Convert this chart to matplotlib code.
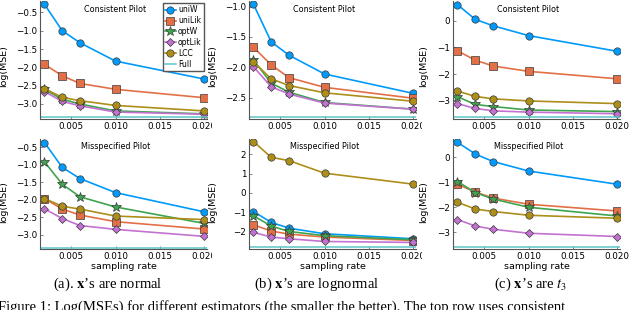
import matplotlib
matplotlib.use("Agg")
import matplotlib.pyplot as plt
from matplotlib.transforms import Bbox, TransformedBbox

# sampling rates on the x axis
sampling_rate = [0.002, 0.004, 0.006, 0.010, 0.020]
methods = ["uniW", "uniLik", "optW", "optLik", "LCC"]

# log(MSE) per method (rows in the order of `methods`)
normal_consistent = [
    [-0.28, -1.00, -1.33, -1.83, -2.32],
    [-1.92, -2.23, -2.44, -2.60, -2.83],
    [-2.60, -2.87, -3.00, -3.19, -3.27],
    [-2.66, -2.93, -3.05, -3.22, -3.28],
    [-2.58, -2.82, -2.91, -3.04, -3.19],
]
lognormal_consistent = [
    [-0.96, -1.58, -1.80, -2.11, -2.43],
    [-1.67, -1.96, -2.17, -2.33, -2.51],
    [-1.88, -2.26, -2.41, -2.58, -2.69],
    [-1.99, -2.32, -2.44, -2.59, -2.69],
    [-1.91, -2.19, -2.30, -2.42, -2.56],
]
t3_consistent = [
    [0.60, 0.05, -0.19, -0.56, -1.15],
    [-1.13, -1.48, -1.70, -1.90, -2.18],
    [-2.85, -3.14, -3.22, -3.35, -3.41],
    [-3.11, -3.29, -3.38, -3.43, -3.49],
    [-2.64, -2.84, -2.93, -3.01, -3.11],
]
normal_misspecified = [
    [-0.36, -1.07, -1.39, -1.79, -2.34],
    [-1.96, -2.26, -2.43, -2.62, -2.83],
    [-0.91, -1.55, -1.91, -2.20, -2.67],
    [-2.25, -2.53, -2.73, -2.84, -3.04],
    [-1.96, -2.18, -2.26, -2.46, -2.56],
]
lognormal_misspecified = [
    [-0.97, -1.53, -1.83, -2.12, -2.38],
    [-1.66, -1.98, -2.14, -2.29, -2.47],
    [-1.19, -1.72, -2.00, -2.22, -2.43],
    [-2.05, -2.29, -2.38, -2.52, -2.57],
    [2.66, 1.84, 1.67, 1.02, 0.45],
]
t3_misspecified = [
    [0.60, 0.13, -0.17, -0.55, -1.08],
    [-1.08, -1.39, -1.63, -1.88, -2.15],
    [-0.97, -1.41, -1.67, -2.00, -2.35],
    [-2.49, -2.75, -2.88, -3.04, -3.17],
    [-1.80, -2.07, -2.17, -2.32, -2.44],
]
# full-data log(MSE): normal, lognormal, t3
full_consistent = [-3.36, -2.82, -3.61]
full_misspecified = [-3.36, -2.81, -3.60]

subcaptions = [r"(a). $\mathbf{x}$’s are normal", r"(b) $\mathbf{x}$’s are lognormal",
               r"(c) $\mathbf{x}$’s are $t_3$"]
caption = ("Figure 1: Log(MSEs) for different estimators (the smaller the better). "
           "The top row uses consistent")

colors = ["#009AFA", "#E36F47", "#3EA44E", "#C371D2", "#AC8E18"]
markers = ["o", "s", "*", "D", "o"]
msizes = [5.3, 5.2, 7, 4.2, 5.3]
full_color = "#5cc6c8"

W, H = 640, 310
fig = plt.figure(figsize=(6.4, 3.1), dpi=100)
plt.rcParams["mathtext.fontset"] = "stix"


def add_ax(l, t, r, b):
    return fig.add_axes([l / W, 1 - b / H, (r - l) / W, (b - t) / H])


lefts = [40, 249, 453]
clips = [(0, 212), (212, 422), (422, 630)]
rows = [
    ([normal_consistent, lognormal_consistent, t3_consistent], full_consistent,
     (1, 119), "Consistent Pilot"),
    ([normal_misspecified, lognormal_misspecified, t3_misspecified], full_misspecified,
     (139, 249), "Misspecified Pilot"),
]
ylims = [[(-3.41, -0.19), (-2.852, -0.907), (-3.687, 0.737)],
         [(-3.40, -0.26), (-2.91, 2.79), (-3.67, 0.73)]]
yticks = [[[-3.0, -2.5, -2.0, -1.5, -1.0, -0.5], [-2.5, -2.0, -1.5, -1.0], [-3, -2, -1, 0]],
          [[-3.0, -2.5, -2.0, -1.5, -1.0, -0.5], [-2, -1, 0, 1, 2], [-3, -2, -1, 0]]]
ylab_x = [-0.19, -0.19, -0.15]

for r, (panels, fulls, (top, bot), title) in enumerate(rows):
    for c in range(3):
        ax = add_ax(lefts[c], top, lefts[c] + 167, bot)
        for k, name in enumerate(methods):
            ax.plot(sampling_rate, panels[c][k], color=colors[k], lw=1.2,
                    marker=markers[k], ms=msizes[k], mec="#3a3a3a", mew=0.5,
                    label=name)
        ax.axhline(fulls[c], color=full_color, lw=1.1, label="Full")
        ax.set_xlim(0.0015, 0.0203)
        ax.set_ylim(*ylims[r][c])
        ax.set_xticks([0.005, 0.010, 0.015, 0.020])
        ax.set_yticks(yticks[r][c])
        for s in ["top", "right"]:
            ax.spines[s].set_visible(False)
        for s in ["left", "bottom"]:
            ax.spines[s].set_color("#555555")
            ax.spines[s].set_linewidth(0.8)
        ax.tick_params(direction="in", length=2, width=0.5, colors="#555555",
                       labelcolor="black", labelsize=6.3, pad=2)
        ax.text(0.45, 0.93, title, transform=ax.transAxes,
                ha="center", va="center", fontsize=5.8)
        ax.set_ylabel("log(MSE)", fontsize=6.8)
        ax.yaxis.set_label_coords(ylab_x[c], 0.45 if r == 0 else 0.43)
        if r == 1:
            ax.set_xlabel("sampling rate", fontsize=6.8)
            ax.xaxis.set_label_coords(0.5, -0.115)
        # panels are cut at the column edge like the original images
        x0, x1 = clips[c]
        box = TransformedBbox(Bbox.from_extents(x0 / W, 0, x1 / W, 1), fig.transFigure)
        for tick in ax.xaxis.get_major_ticks():
            tick.label1.set_clip_box(box)
            tick.label1.set_clip_on(True)
        if r == 0 and c == 0:
            ax.legend(loc="upper right", bbox_to_anchor=(204 / W, 1 - 3 / H),
                      bbox_transform=fig.transFigure, fontsize=5.5, frameon=True,
                      fancybox=False, edgecolor="#555555", framealpha=1,
                      handlelength=1.4, handletextpad=0.3, labelspacing=0.25,
                      borderpad=0.3, borderaxespad=0)

centers = [108, 317, 531]
for cx, txt in zip(centers, subcaptions):
    fig.text(cx / W, 1 - 284 / H, txt, ha="center", va="center",
             fontsize=10.5, family="Liberation Serif")

fig.text(-2 / W, 1 - 300 / H, caption, ha="left", va="top", fontsize=10.5,
         family="Liberation Serif")

fig.savefig("out.png", dpi=100)
